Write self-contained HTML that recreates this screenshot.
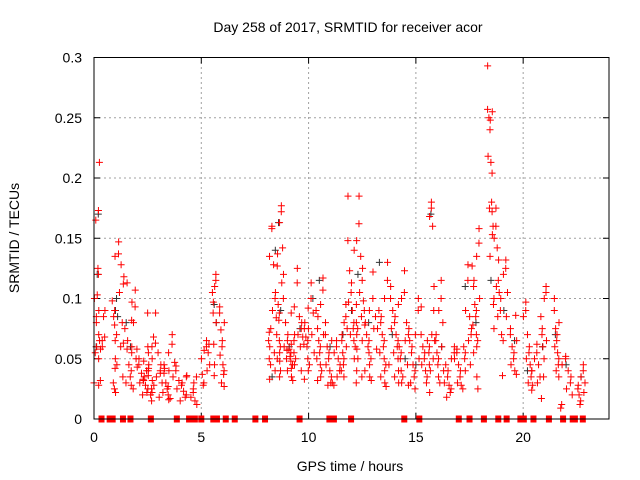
<!DOCTYPE html>
<html><head><meta charset="utf-8"><style>
body{margin:0;background:#fff;}
svg{display:block;font-family:"Liberation Sans","DejaVu Sans",sans-serif;}
</style></head><body>
<svg id="chart" width="640" height="480" viewBox="0 0 640 480">
<text x="348" y="32" font-size="14" text-anchor="middle" fill="#000">Day 258 of 2017, SRMTID for receiver acor</text>
<text transform="translate(19,238) rotate(-90)" font-size="14" text-anchor="middle" fill="#000">SRMTID / TECUs</text>
<text x="350" y="471" font-size="14" text-anchor="middle" fill="#000">GPS time / hours</text>
<g id="grid"></g>
<g id="ticks"></g>
<g id="marks"></g>
<rect x="94" y="57.5" width="515" height="361.5" fill="none" stroke="#000" stroke-width="1"/>
</svg>
<script>
const xTicks=[0,5,10,15,20];
const yTicks=[0,0.05,0.1,0.15,0.2,0.25,0.3];
const yTickLabels=["0","0.05","0.1","0.15","0.2","0.25","0.3"];
const segStart=[0,0.3,0.8,1.4,2.0,2.6,3.2,3.8,4.5,5.0,5.5,5.8,8.1,8.5,8.8,9.3,9.8,10.3,10.7,11.1,11.5,11.8,12.2,12.6,13.2,13.7,14.2,14.7,15.2,15.6,15.9,16.3,16.8,17.2,17.6,18.3,18.6,18.9,19.4,20.0,20.4,20.8,21.4,21.7,22.5];
const segEnd=[0.3,0.6,1.4,2.0,2.6,3.2,3.8,4.5,4.9,5.4,5.7,6.1,8.5,8.8,9.3,9.8,10.3,10.7,11.1,11.5,11.8,12.2,12.6,13.2,13.7,14.2,14.7,15.2,15.6,15.9,16.3,16.8,17.2,17.6,18.0,18.6,18.9,19.3,19.8,20.4,20.8,21.1,21.7,22.3,22.9];
const segValues=[
[0.03,0.032,0.05,0.055,0.06,0.08,0.1,0.103,0.12,0.125,0.165,0.173,0.213,0.07,0.085,0.09,0.065,0.028],
[0.06,0.065,0.058,0.085,0.09,0.068],
[0.147,0.137,0.135,0.128,0.118,0.112,0.105,0.098,0.09,0.085,0.08,0.078,0.07,0.065,0.063,0.05,0.045,0.042,0.035,0.025,0.022,0.03,0.06],
[0.107,0.093,0.082,0.075,0.065,0.058,0.05,0.045,0.04,0.035,0.03,0.028,0.025,0.06,0.113,0.097,0.08,0.055],
[0.05,0.045,0.04,0.038,0.035,0.032,0.03,0.028,0.025,0.022,0.02,0.06,0.058,0.055,0.048,0.042,0.043,0.036,0.033,0.088,0.045,0.04],
[0.088,0.063,0.06,0.055,0.045,0.04,0.035,0.03,0.025,0.02,0.018,0.015,0.068,0.05,0.038,0.032,0.028,0.022],
[0.07,0.062,0.055,0.047,0.042,0.038,0.035,0.03,0.027,0.025,0.022,0.02,0.017,0.016,0.045,0.04],
[0.044,0.04,0.036,0.032,0.03,0.028,0.025,0.023,0.02,0.018,0.015,0.035],
[0.025,0.022,0.018,0.015,0.012,0.035,0.03],
[0.065,0.06,0.057,0.055,0.05,0.045,0.04,0.037,0.03,0.028,0.062],
[0.12,0.115,0.11,0.105,0.097,0.088,0.08,0.062,0.045,0.036],
[0.093,0.088,0.08,0.074,0.065,0.06,0.053,0.045,0.04,0.037,0.03,0.027],
[0.16,0.158,0.135,0.128,0.105,0.1,0.09,0.084,0.072,0.065,0.055,0.05,0.045,0.033,0.04,0.06,0.075],
[0.177,0.172,0.163,0.142,0.137,0.127,0.113,0.095,0.088,0.082,0.07,0.065,0.06,0.055,0.05,0.048,0.04,0.035],
[0.12,0.1,0.088,0.08,0.07,0.065,0.06,0.058,0.055,0.052,0.05,0.048,0.045,0.042,0.04,0.035,0.032,0.062,0.057],
[0.125,0.113,0.093,0.085,0.08,0.075,0.07,0.068,0.065,0.062,0.06,0.055,0.05,0.045,0.04,0.07],
[0.113,0.1,0.092,0.088,0.08,0.075,0.07,0.068,0.065,0.06,0.055,0.05,0.045,0.04,0.033,0.075],
[0.117,0.107,0.095,0.09,0.085,0.075,0.07,0.065,0.06,0.055,0.05,0.045,0.04,0.035,0.032],
[0.08,0.07,0.065,0.06,0.055,0.05,0.045,0.04,0.035,0.03,0.028],
[0.065,0.06,0.055,0.05,0.045,0.04,0.035,0.03,0.028],
[0.095,0.085,0.08,0.075,0.07,0.065,0.06,0.055,0.05,0.045,0.04,0.035],
[0.185,0.148,0.14,0.123,0.113,0.105,0.097,0.09,0.08,0.075,0.07,0.065,0.06,0.05],
[0.185,0.162,0.148,0.135,0.125,0.115,0.105,0.098,0.095,0.09,0.085,0.08,0.075,0.07,0.065,0.058,0.05,0.04,0.035,0.03],
[0.122,0.1,0.09,0.085,0.08,0.078,0.075,0.07,0.065,0.06,0.058,0.055,0.05,0.045,0.04,0.035,0.032],
[0.13,0.115,0.1,0.09,0.085,0.08,0.075,0.07,0.065,0.06,0.055,0.05,0.045,0.04,0.035,0.03,0.027],
[0.11,0.1,0.095,0.09,0.085,0.08,0.075,0.07,0.065,0.06,0.055,0.05,0.045,0.04,0.035,0.03],
[0.123,0.105,0.1,0.08,0.075,0.07,0.065,0.06,0.055,0.05,0.045,0.04,0.035,0.03,0.028],
[0.1,0.09,0.07,0.065,0.06,0.055,0.05,0.045,0.04,0.035,0.03,0.025],
[0.093,0.07,0.065,0.06,0.055,0.05,0.045,0.04,0.035,0.03],
[0.18,0.175,0.168,0.16,0.11,0.09,0.07,0.065,0.06,0.055,0.05,0.045,0.04,0.022],
[0.115,0.1,0.09,0.08,0.07,0.065,0.06,0.055,0.05,0.045,0.04,0.035,0.03],
[0.06,0.055,0.05,0.045,0.04,0.035,0.03,0.028,0.025,0.022,0.018],
[0.058,0.055,0.05,0.045,0.04,0.035,0.03,0.028,0.025],
[0.128,0.115,0.09,0.085,0.075,0.07,0.065,0.06,0.055,0.05,0.045,0.04],
[0.158,0.146,0.135,0.127,0.115,0.11,0.1,0.095,0.09,0.085,0.078,0.07,0.065,0.06,0.055,0.035,0.025],
[0.293,0.257,0.255,0.25,0.248,0.24,0.218,0.213,0.204,0.18,0.175,0.172,0.16,0.153,0.135],
[0.175,0.16,0.15,0.142,0.132,0.115,0.11,0.105,0.1,0.095,0.085,0.075],
[0.132,0.125,0.12,0.105,0.1,0.09,0.085,0.07,0.065,0.036],
[0.075,0.07,0.065,0.06,0.055,0.05,0.045,0.04,0.037,0.086],
[0.097,0.09,0.085,0.07,0.06,0.055,0.05,0.045,0.04,0.035,0.03,0.024],
[0.062,0.055,0.05,0.045,0.04,0.035,0.03,0.028],
[0.11,0.105,0.1,0.085,0.075,0.07,0.065,0.06,0.05,0.035,0.017],
[0.1,0.09,0.08,0.075,0.07,0.065,0.06,0.055,0.05,0.045,0.04,0.035],
[0.052,0.05,0.045,0.04,0.035,0.03,0.025,0.02,0.012,0.009],
[0.045,0.04,0.035,0.03,0.028,0.025,0.022,0.02,0.015,0.012]
];
const blackHours=[0.1,0.15,0.2,1.0,1.05,1.1,1.5,1.7,5.6,5.7,8.3,8.45,8.6,8.7,9.1,9.6,10.2,10.5,11.0,11.6,12.0,12.3,12.8,13.3,13.9,14.5,15.0,15.7,16.2,17.3,17.8,18.5,19.1,19.6,20.2,20.9,21.5,22.0,22.7];
const blackValues=[0.06,0.12,0.17,0.09,0.1,0.085,0.08,0.06,0.095,0.08,0.035,0.14,0.163,0.09,0.06,0.075,0.1,0.115,0.06,0.07,0.09,0.12,0.08,0.13,0.07,0.05,0.045,0.17,0.06,0.11,0.08,0.115,0.09,0.065,0.04,0.06,0.07,0.045,0.035];
const zeroHours=[0.35,0.73,0.87,1.35,1.7,2.65,3.86,4.43,4.7,5.0,5.56,5.73,6.14,6.56,7.52,7.97,9.58,10.97,11.18,11.98,14.46,15.16,17.0,17.5,18.17,18.84,19.23,19.87,20.03,20.48,21.2,21.86,22.31,22.41,22.78];

const X0=94,X1=609,Y0=419,Y1=57.5,XMAX=24,YMAX=0.3;
const xs=h=>X0+(X1-X0)*h/XMAX;
const ys=v=>Y0-(Y0-Y1)*v/YMAX;
const NS="http://www.w3.org/2000/svg";
const grid=document.getElementById('grid'),ticks=document.getElementById('ticks'),marks=document.getElementById('marks');
function mk(tag,attrs,parent){const e=document.createElementNS(NS,tag);for(const k in attrs)e.setAttribute(k,attrs[k]);parent.appendChild(e);return e;}
yTicks.forEach((v,i)=>{
  const y=ys(v);
  if(v>0&&v<YMAX){const g=mk('line',{x1:X0,x2:X1,y1:y,y2:y,stroke:'#a0a0a0','stroke-dasharray':'2,3'},grid);
  
  }
  const t=mk('path',{d:`M${X0} ${y}h6M${X1} ${y}h-6`,stroke:'#000'},ticks);
  
  
  const l=mk('text',{x:82,y:y+5,'font-size':14,'text-anchor':'end',fill:'#000'},ticks);
  l.textContent=yTickLabels[i];
  
  
});
xTicks.forEach(h=>{
  const x=xs(h);
  if(h>0){const g=mk('line',{x1:x,x2:x,y1:Y0,y2:Y1,stroke:'#a0a0a0','stroke-dasharray':'2,3'},grid);
  
  }
  const t=mk('path',{d:`M${x} ${Y0}v-6M${x} ${Y1}v6`,stroke:'#000'},ticks);
  
  
  const l=mk('text',{x:x,y:442,'font-size':14,'text-anchor':'middle',fill:'#000'},ticks);
  l.textContent=String(h);
  
  
});
function plus(h,v,col,name){
  const x=xs(h),y=ys(v);
  const p=mk('path',{d:`M${x-3.5} ${y}h7M${x} ${y-3.5}v7`,stroke:col,'stroke-width':1},marks);
  
  
}
blackHours.forEach((h,i)=>plus(h,blackValues[i],'#333','point-black'));
segValues.forEach((vals,s)=>{
  vals.forEach((v,i)=>{
    const f=((i*i*0.371+i*0.618+s*0.29)%1);
    const h=segStart[s]+(segEnd[s]-segStart[s])*f;
    plus(h,v,'#f00','point-red');
  });
});
zeroHours.forEach(h=>{
  const r=mk('rect',{x:xs(h)-3,y:Y0-3.5,width:6,height:7,fill:'#f00'},marks);
  
  
});
</script>
</body></html>
